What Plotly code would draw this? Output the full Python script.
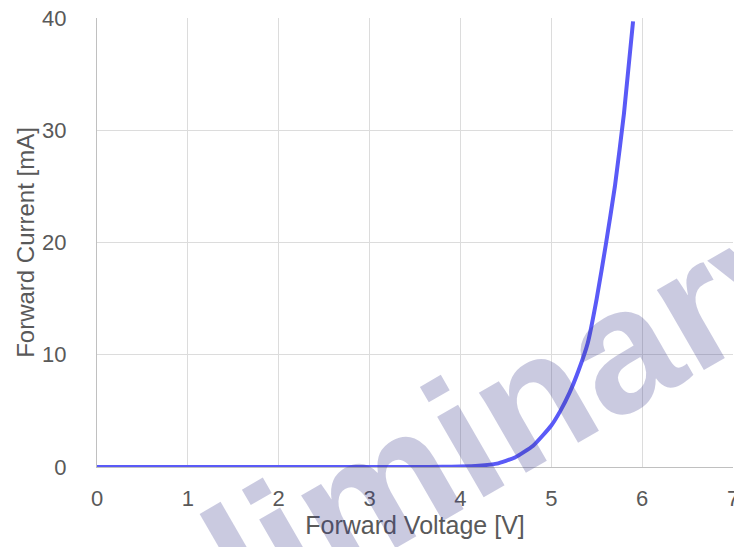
import plotly.graph_objects as go

# Forward voltage [V] and forward current [mA]
voltage = [0, 1, 2, 3, 3.5, 3.8, 4.0, 4.2, 4.4, 4.6, 4.8, 5.0, 5.1, 5.2, 5.3, 5.4, 5.5, 5.6, 5.7, 5.8, 5.9]
current = [0, 0, 0, 0, 0, 0.02, 0.05, 0.12, 0.3, 0.85, 1.9, 3.7, 5.0, 6.6, 8.6, 11.0, 15.0, 19.8, 25.0, 31.5, 39.7]

x_ticks = [0, 1, 2, 3, 4, 5, 6, 7]
y_ticks = [0, 10, 20, 30, 40]
x_title = "Forward Voltage [V]"
y_title = "Forward Current [mA]"
watermark = "Preliminary"

FONT = "Arial, 'Liberation Sans', sans-serif"
GRAY = "#595959"

fig = go.Figure()
fig.add_trace(go.Scatter(
    x=voltage, y=current, mode="lines",
    line=dict(color="#5a5af7", width=4, shape="spline", smoothing=0.5),
    cliponaxis=False, showlegend=False, hoverinfo="skip",
))

fig.update_layout(
    width=734, height=547,
    margin=dict(l=97, r=1, t=18, b=80),
    paper_bgcolor="white", plot_bgcolor="white",
    font=dict(family=FONT, color=GRAY, size=22),
    xaxis=dict(
        range=[0, 7], tickvals=x_ticks, ticktext=[str(v) for v in x_ticks],
        automargin=False,
        showgrid=True, gridcolor="#dcdcdc", gridwidth=1.3,
        showline=True, linecolor="#c0c0c0", linewidth=1.3,
        zeroline=False, ticks="outside", ticklen=11, tickcolor="rgba(0,0,0,0)",
        ticklabeloverflow="allow",
        tickfont=dict(size=22, color=GRAY),
        title=dict(text=x_title, font=dict(size=25, color=GRAY), standoff=4),
    ),
    yaxis=dict(
        range=[0, 40], tickvals=y_ticks, ticktext=[str(v) for v in y_ticks],
        automargin=False,
        showgrid=True, gridcolor="#dcdcdc", gridwidth=1.3,
        showline=True, linecolor="#c0c0c0", linewidth=1.3,
        zeroline=False, ticks="outside", ticklen=25, tickcolor="rgba(0,0,0,0)",
        tickfont=dict(size=22, color=GRAY),
        title=dict(text=y_title, font=dict(size=24, color=GRAY), standoff=0),
    ),
    annotations=[dict(
        text=watermark, xref="paper", yref="paper", x=0.463, y=-0.028,
        xanchor="center", yanchor="middle", showarrow=False,
        textangle=-30,
        font=dict(family=FONT, size=176, color="rgba(60,60,140,0.27)", weight="bold"),
    )],
)

fig.write_html(
    "out.html",
    config={"displayModeBar": False},
    post_script="document.body.style.margin='0';document.body.style.overflow='hidden';",
)
